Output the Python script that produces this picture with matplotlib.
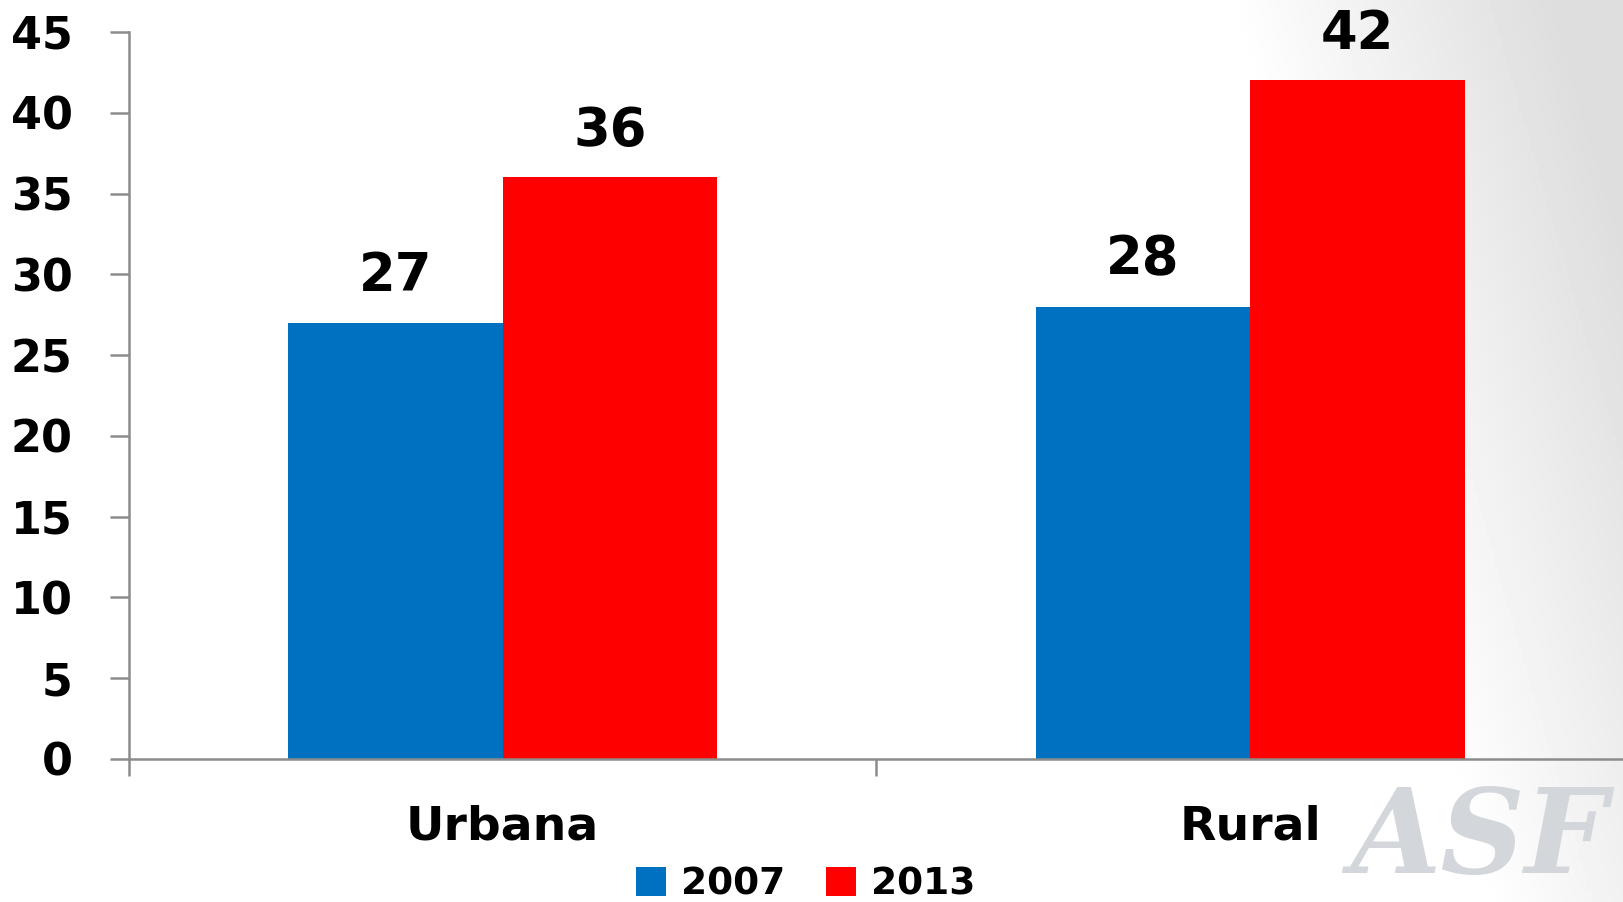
import matplotlib.pyplot as plt
import numpy as np

# data
categories = ['Urbana', 'Rural']
years = ['2007', '2013']
values_2007 = [27, 28]
values_2013 = [36, 42]
colors = ['#0070C0', '#FF0000']

plt.rcParams['font.family'] = ['DejaVu Sans']
plt.rcParams['font.weight'] = 'bold'

fig = plt.figure(figsize=(16.24, 9.02), dpi=100)

# faint grey backdrop in the lower right corner (watermark-like)
bg = fig.add_axes([0, 0, 1, 1], zorder=0)
gx, gy = np.meshgrid(np.linspace(0, 1, 400), np.linspace(0, 1, 220))
shade = np.clip((gx - 0.86) * 5.0 + (gy - 0.35) * 0.8, 0, 1) * 0.13
bg.imshow(1 - shade, cmap='gray', vmin=0, vmax=1, extent=[0, 1, 0, 1],
          aspect='auto', origin='lower')
bg.text(0.99, 0.004, 'ASF', fontsize=84, family='DejaVu Serif', style='italic',
        color='#d3d6da', ha='right', va='bottom', weight='bold')
bg.set_xlim(0, 1)
bg.set_ylim(0, 1)
bg.axis('off')

ax = fig.add_axes([129 / 1624, 1 - 759 / 902, 1 - 129 / 1624, 727 / 902], zorder=1)
ax.patch.set_alpha(0)

x = np.arange(len(categories))
w = 0.287
b1 = ax.bar(x - w / 2, values_2007, w, color=colors[0], label=years[0])
b2 = ax.bar(x + w / 2, values_2013, w, color=colors[1], label=years[1])

for bars in (b1, b2):
    ax.bar_label(bars, padding=15, fontsize=38, fontweight='bold')

ax.set_xlim(-0.5, 1.5)
ax.set_ylim(0, 45)
ax.set_yticks(range(0, 46, 5))
ax.set_xticks([-0.5, 0.5, 1.5], minor=False)
ax.set_xticklabels(['', '', ''])
ax.set_xticks(x, minor=True)
ax.set_xticklabels(categories, minor=True)
ax.tick_params(axis='x', which='minor', length=0, pad=33, labelsize=34)
ax.tick_params(axis='x', which='major', length=12, width=1.8, color='#8c8c8c')
ax.tick_params(axis='y', length=13.5, width=1.8, color='#8c8c8c', pad=27, labelsize=32)

for s in ['top', 'right']:
    ax.spines[s].set_visible(False)
for s in ['left', 'bottom']:
    ax.spines[s].set_color('#8c8c8c')
    ax.spines[s].set_linewidth(1.8)

fig.legend(loc='center', bbox_to_anchor=(0.496, 0.019), ncol=2, frameon=False,
           fontsize=27, handlelength=0.8, handleheight=0.8, handletextpad=0.4,
           columnspacing=1.1, borderaxespad=0)

fig.savefig('out.png', dpi=100)
